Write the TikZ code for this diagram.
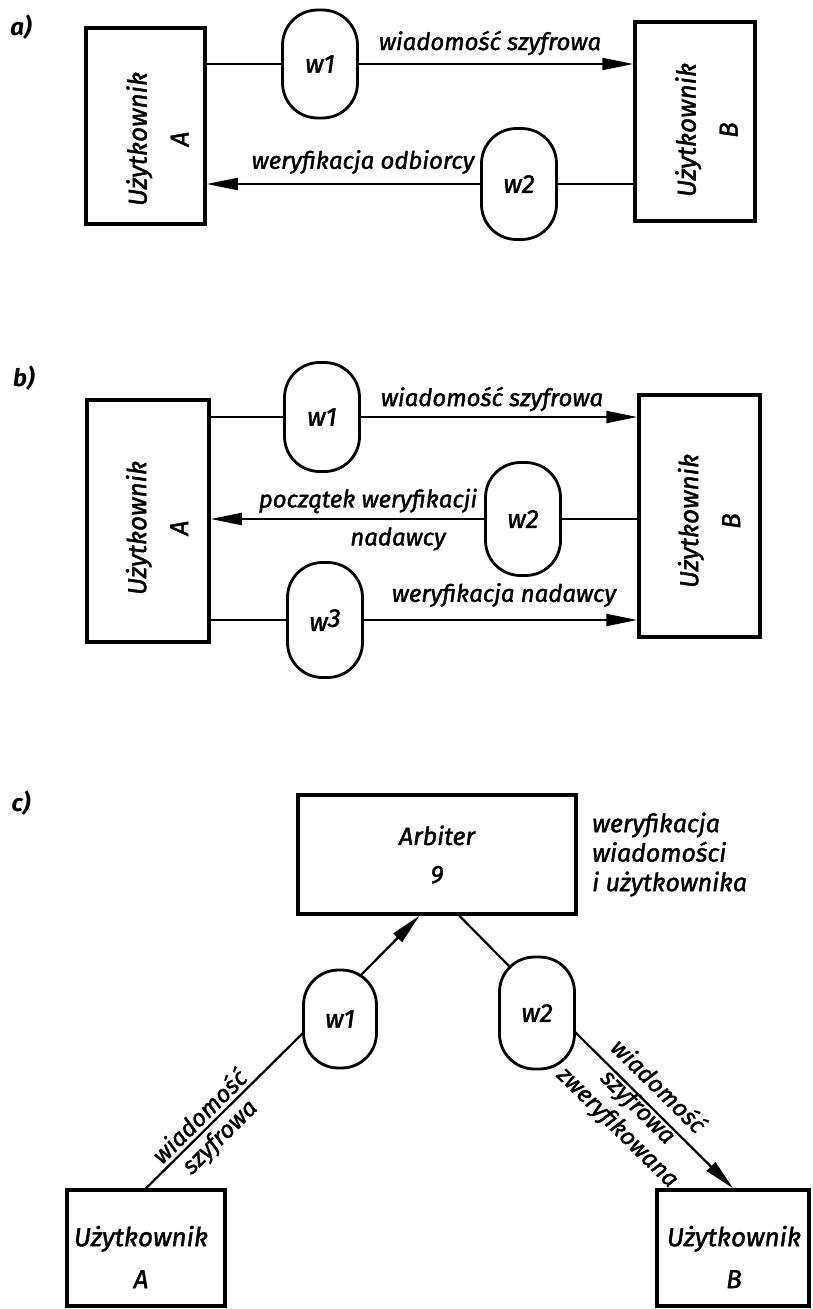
\documentclass[tikz,border=0pt]{standalone}
\usepackage{fontspec}
\usepackage{graphicx}
\setmainfont{Fira Sans}[ItalicFeatures={FakeBold=1.6}]
\usetikzlibrary{arrows.meta,calc}
\begin{document}
\begin{tikzpicture}[x=1pt,y=-1pt,
  txt/.style={font=\itshape\fontsize{24}{42}\selectfont, inner sep=2pt},
  btxt/.style={txt, font=\itshape\fontsize{26}{42}\selectfont},
  box/.style={draw, line width=3.5pt, inner sep=0pt},
  wnode/.style={draw, line width=2.8pt, rounded corners=35pt, minimum width=75pt, inner sep=0pt, fill=white, font=\itshape\fontsize{26}{30}\selectfont},
  conn/.style={line width=2.2pt},
  arr/.style={line width=2.2pt, -{Triangle[length=31pt,width=12pt]}},
  panel/.style={font=\bfseries\itshape\fontsize{24}{28}\selectfont},
  utext/.style={btxt, rotate=90, align=center},
]
\useasboundingbox (0,0) rectangle (812,1309);

% ---------------- a)
\node[panel] (pa) at (21,27) {a)};
\node[box, minimum width=119pt, minimum height=196pt] (Aa) at (145.5,126) {};
\node[utext] (Aat) at (157.5,139) {Użytkownik\\A};
\node[box, minimum width=120pt, minimum height=199pt] (Ba) at (695,121.5) {};
\node[utext] (Bat) at (706.5,130) {Użytkownik\\B};
\node[wnode, minimum height=108pt] (w1a) at (320,64) {w1};
\node[wnode, minimum height=111pt] (w2a) at (519,184) {w2};
\draw[conn] (w1a.west -| Aa.east) -- (w1a.west);
\draw[arr] (w1a.east) -- (w1a.east -| Ba.west);
\draw[conn] (w2a.east) -- (w2a.east -| Ba.west);
\draw[arr] (w2a.west) -- (w2a.west -| Aa.east);
\node[txt] (la1) at (490,43) {wiadomość szyfrowa};
\node[txt] (la2) at (363,162) {weryfikacja odbiorcy};

% ---------------- b)
\node[panel] (pb) at (24,378) {b)};
\node[box, minimum width=122pt, minimum height=242pt] (Ab) at (148,521) {};
\node[utext] (Abt) at (157,528) {Użytkownik\\A};
\node[box, minimum width=121pt, minimum height=242pt] (Bb) at (699.5,516) {};
\node[utext] (Bbt) at (709,521) {Użytkownik\\B};
\node[wnode, minimum height=109pt] (w1b) at (322,417) {w1};
\node[wnode, minimum height=113pt] (w2b) at (523,519) {w2};
\node[wnode, minimum height=115pt] (w3b) at (325,620) {w\raisebox{4pt}{3}};
\draw[conn] (w1b.west -| Ab.east) -- (w1b.west);
\draw[arr] (w1b.east) -- (w1b.east -| Bb.west);
\draw[conn] (w2b.east) -- (w2b.east -| Bb.west);
\draw[arr] (w2b.west) -- (w2b.west -| Ab.east);
\draw[conn] (w3b.west -| Ab.east) -- (w3b.west);
\draw[arr] (w3b.east) -- (w3b.east -| Bb.west);
\node[txt] (lb1) at (492,399) {wiadomość szyfrowa};
\node[txt] (lb2) at (368,501) {początek weryfikacji};
\node[txt] (lb3) at (398,539) {nadawcy};
\node[txt] (lb4) at (504,595) {weryfikacja nadawcy};

% ---------------- c)
\node[panel] (pc) at (21,803) {c)};
\node[txt, box, minimum width=278pt, minimum height=119pt, align=center, font=\itshape\fontsize{25}{38}\selectfont] (arb) at (437,854.5) {Arbiter\\9};
\node[txt, anchor=west, align=left, font=\itshape\fontsize{25}{29.5}\selectfont] (note) at (590,854.5) {weryfikacja\\wiadomości\\i użytkownika};
\node[wnode, minimum width=73pt, minimum height=98pt] (w1c) at (340,1019) {w1};
\node[wnode, minimum height=112pt] (w2c) at (537,1013) {w2};
\node[box, minimum width=158pt, minimum height=116pt] (Ac) at (146,1248) {};
\node[btxt, align=center] (Act) at (141,1257) {Użytkownik\\A};
\node[box, minimum width=152pt, minimum height=116pt] (Bc) at (733,1248) {};
\node[btxt, align=center] (Bct) at (734,1257) {Użytkownik\\B};
\coordinate (w1c-ll) at ($(w1c.center)+(-36.5,13.5)$);
\coordinate (w1c-ur) at ($(w1c.center)+(20.4,-43.4)$);
\coordinate (w2c-ul) at ($(w2c.center)+(-27,-46)$);
\coordinate (w2c-lr) at ($(w2c.center)+(37.5,18.5)$);
\draw[conn] (Ac.north) -- node[txt, sloped, anchor=base, yshift=-23pt, pos=0.40, align=center, font=\itshape\fontsize{24}{28}\selectfont] (lc1) {wiadomość\\szyfrowa} (w1c-ll);
\draw[arr] (w1c-ur) -- (arb.254);
\draw[conn] (arb.290) -- (w2c-ul);
\draw[arr] (w2c-lr) -- node[txt, sloped, anchor=base, yshift=-45pt, pos=0.44, align=center, font=\itshape\fontsize{24}{28.5}\selectfont] (lc3) {wiadomość\\szyfrowa\\zweryfikowana} (Bc.north);
\end{tikzpicture}
\end{document}
